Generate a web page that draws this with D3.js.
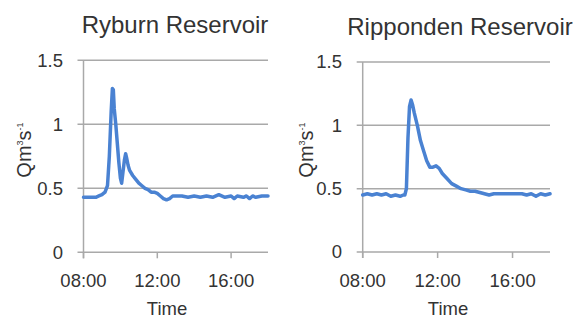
<!DOCTYPE html>
<html><head><meta charset="utf-8">
<script src="https://cdn.jsdelivr.net/npm/d3@7"></script>
<style>body{margin:0;background:#fff}svg{display:block}text{font-family:"Liberation Sans",Arial,sans-serif;fill:#333}</style>
</head><body><svg id="c" width="584" height="320"></svg>
<script>
// ---- data ----
const titles = ["Ryburn Reservoir", "Ripponden Reservoir"];
const xTickLabels = ["08:00", "12:00", "16:00"];
const yTickValues = [0, 0.5, 1, 1.5];
const xLabel = "Time";

const ryburnTimes = ["08:00","08:20","08:40","08:50","09:00","09:10","09:18","09:24","09:30","09:34","09:37","09:40","09:45","09:50","09:55","10:00","10:04","10:08","10:13","10:17","10:20","10:25","10:30","10:40","10:50","11:00","11:10","11:20","11:30","11:40","11:50","12:00","12:10","12:20","12:30","12:40","12:50","13:00","13:20","13:40","14:00","14:20","14:40","15:00","15:20","15:40","16:00","16:10","16:20","16:40","16:50","17:00","17:10","17:20","17:40","18:00"];
const ryburnFlow = [0.43,0.43,0.43,0.44,0.45,0.47,0.52,0.75,1.10,1.28,1.27,1.12,1.00,0.85,0.70,0.58,0.54,0.62,0.72,0.77,0.74,0.68,0.64,0.60,0.57,0.54,0.52,0.50,0.49,0.47,0.47,0.46,0.44,0.42,0.41,0.42,0.44,0.44,0.44,0.43,0.44,0.43,0.44,0.43,0.45,0.43,0.44,0.42,0.44,0.43,0.44,0.42,0.44,0.43,0.44,0.44];

const rippTimes = ["08:00","08:15","08:30","08:45","09:00","09:15","09:30","09:45","10:00","10:10","10:15","10:20","10:25","10:30","10:35","10:40","10:45","10:55","11:05","11:15","11:25","11:35","11:45","11:55","12:05","12:15","12:30","12:45","13:00","13:15","13:30","13:45","14:00","14:15","14:30","14:45","15:00","15:30","16:00","16:30","16:45","17:00","17:15","17:30","17:45","18:00"];
const rippFlow = [0.45,0.46,0.45,0.46,0.45,0.46,0.44,0.45,0.44,0.45,0.45,0.50,0.90,1.15,1.20,1.16,1.10,1.00,0.88,0.80,0.72,0.67,0.67,0.68,0.66,0.62,0.58,0.54,0.52,0.50,0.49,0.48,0.48,0.47,0.46,0.45,0.46,0.46,0.46,0.46,0.45,0.46,0.44,0.46,0.45,0.46];

// ---- layout ----
const panels = [
  {title: titles[0], times: ryburnTimes, flow: ryburnFlow, x0: 83.5, x1: 268, yTop: 60.3, yBot: 252.3, titleX: 175, titleY: 33, ylabX: 24, ylabY: 150, xlabX: 167, tickLabX: 63},
  {title: titles[1], times: rippTimes, flow: rippFlow, x0: 362.7, x1: 550, yTop: 62, yBot: 252, titleX: 460, titleY: 35, ylabX: 306, ylabY: 150, xlabX: 448, tickLabX: 342}
];

const parse = d3.timeParse("%H:%M");
const svg = d3.select("#c");
const gridColor = "#a9a9a9";
const lineColor = "#4a82d2";

panels.forEach(p => {
  const x = d3.scaleTime().domain([parse("08:00"), parse("18:00")]).range([p.x0, p.x1]);
  const y = d3.scaleLinear().domain([0, 1.5]).range([p.yBot, p.yTop]);
  const g = svg.append("g");

  g.selectAll(".grid").data(yTickValues).join("line")
    .attr("x1", p.x0 - 6).attr("x2", p.x1)
    .attr("y1", d => y(d)).attr("y2", d => y(d))
    .attr("stroke", gridColor).attr("stroke-width", 1.5);
  g.append("line").attr("x1", p.x0).attr("x2", p.x0).attr("y1", y(1.5)).attr("y2", y(0) + 6)
    .attr("stroke", gridColor).attr("stroke-width", 1.5);
  const tickTimes = xTickLabels.map(parse);
  g.selectAll(".xt").data(tickTimes).join("line")
    .attr("x1", d => x(d)).attr("x2", d => x(d)).attr("y1", y(0)).attr("y2", y(0) + 6)
    .attr("stroke", gridColor).attr("stroke-width", 1.5);
  g.selectAll(".xl").data(xTickLabels).join("text")
    .attr("x", d => x(parse(d))).attr("y", y(0) + 35)
    .attr("text-anchor", "middle").attr("font-size", 18.5).text(d => d);
  g.selectAll(".yl").data(yTickValues).join("text")
    .attr("x", p.tickLabX).attr("y", d => y(d)).attr("dy", "0.35em")
    .attr("text-anchor", "end").attr("font-size", 18.5).text(d => d);
  g.append("text").attr("x", p.titleX).attr("y", p.titleY).attr("text-anchor", "middle")
    .attr("font-size", 24).text(p.title);
  g.append("text").attr("x", p.xlabX).attr("y", 315).attr("text-anchor", "middle")
    .attr("font-size", 18.5).text(xLabel);
  const yl = g.append("text").attr("transform", `translate(${p.ylabX},${p.ylabY}) rotate(-90)`)
    .attr("text-anchor", "middle").attr("dy", "0.35em").attr("font-size", 20);
  yl.append("tspan").text("Qm");
  yl.append("tspan").attr("font-size", 9).attr("baseline-shift", "90%").text("3");
  yl.append("tspan").text("s");
  yl.append("tspan").attr("font-size", 9).attr("baseline-shift", "90%").text("-1");

  const data = p.times.map((t, i) => ({t: parse(t), v: p.flow[i]}));
  g.append("path").datum(data)
    .attr("fill", "none").attr("stroke", lineColor).attr("stroke-width", 3.5)
    .attr("stroke-linejoin", "round").attr("stroke-linecap", "round")
    .attr("d", d3.line().x(d => x(d.t)).y(d => y(d.v)));
});
</script></body></html>
